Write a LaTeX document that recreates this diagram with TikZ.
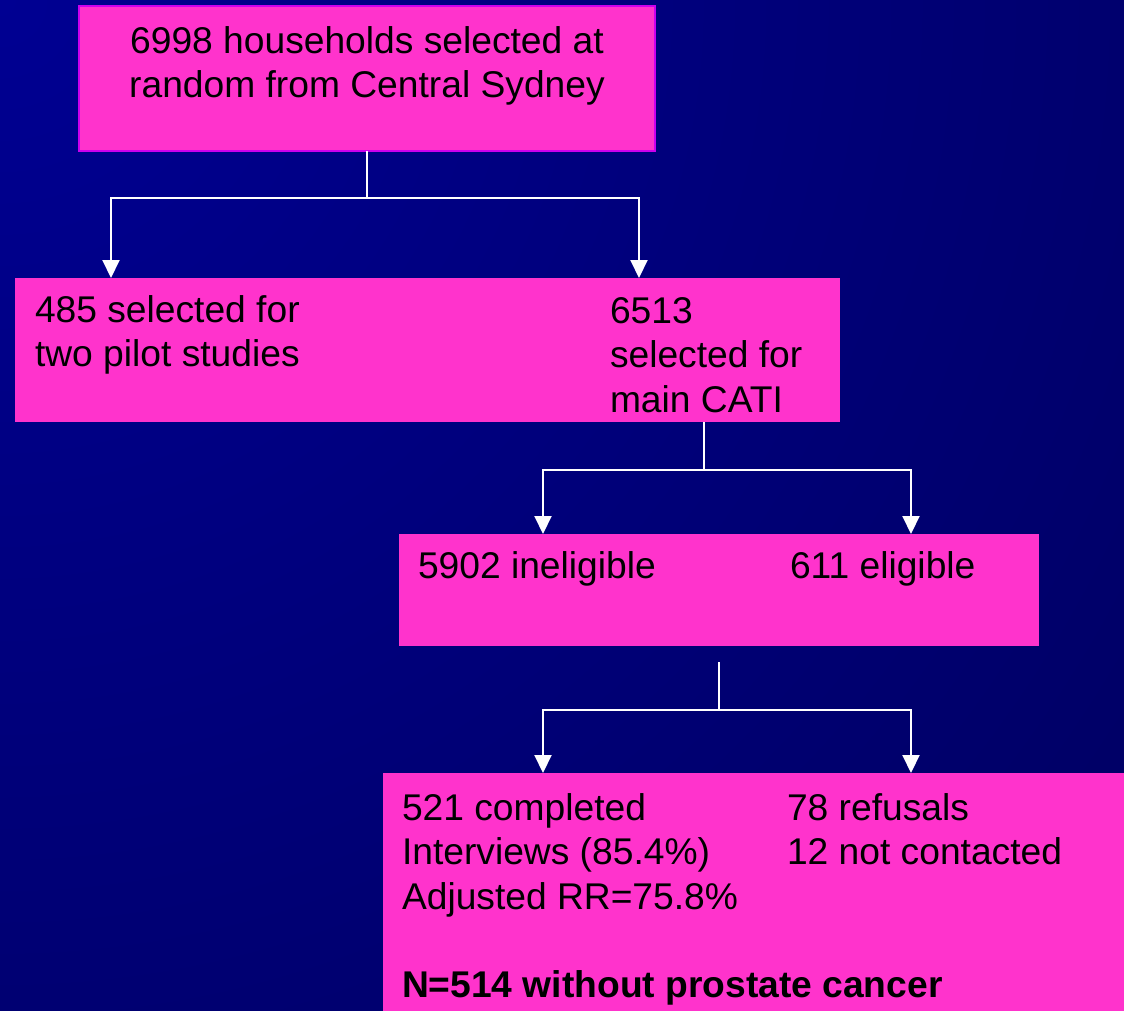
\documentclass[tikz,border=0pt]{standalone}
\usepackage{fontspec}
\setmainfont{Liberation Sans}
\usetikzlibrary{arrows.meta,calc}
\definecolor{pinkbox}{RGB}{255,51,204}
\definecolor{bordv}{RGB}{204,0,238}
\definecolor{bgtop}{RGB}{0,0,146}
\definecolor{bgbot}{RGB}{0,0,82}
\newcommand\bigtxt{\fontsize{37.2}{44.5}\selectfont}
\begin{document}
\begin{tikzpicture}[x=1pt,y=-1pt,
  box/.style={draw=none, fill=pinkbox, anchor=north west, inner sep=0, outer sep=0},
  txt/.style={anchor=base west, inner sep=0, outer sep=0, font=\bigtxt, text=black},
  conn/.style={draw=white, line width=2pt},
  arr/.style={conn, -{Triangle[width=17pt,length=18pt]}}]
\useasboundingbox (0,0) rectangle (1124,1010);
\begin{scope}
  \clip (0,0) rectangle (1124,1010);
  \fill[bgbot] (0,0) rectangle (1124,1010);
  \shade[inner color=bgtop, outer color=bgbot] (0,0) circle (2000pt);
\end{scope}
% boxes
\node[box, draw=bordv, line width=1.5pt, minimum width=576pt, minimum height=145pt] (top) at (79,6) {};
\node[box, minimum width=825pt, minimum height=144pt] (box2) at (15,278) {};
\node[box, minimum width=640pt, minimum height=112pt] (box3) at (399,534) {};
\node[box, minimum width=760pt, minimum height=260pt] (box4) at (383,773) {};
% connectors
\draw[conn] (top.south) -- ++(0,47) coordinate (j1);
\draw[arr] (j1) -| ([xshift=96pt]box2.north west);
\draw[arr] (j1) -| ([xshift=624pt]box2.north west);
\draw[conn] ([xshift=689pt]box2.south west) -- ++(0,48) coordinate (j2);
\draw[arr] (j2) -| ([xshift=144pt]box3.north west);
\draw[arr] (j2) -| ([xshift=512pt]box3.north west);
\draw[conn] ([yshift=-16pt]box3.south) -- ++(0,48) coordinate (j3);
\draw[arr] (j3) -| ([xshift=160pt]box4.north west);
\draw[arr] (j3) -| ([xshift=528pt]box4.north west);
% texts
\node[txt, anchor=base] (t1) at (367,53) {\vtop{\halign{\hfil#\hfil\cr 6998 households selected at\cr random from Central Sydney\cr}}};
\node[txt] (t2a) at (35,322) {\vtop{\hbox{485 selected for}\hbox{two pilot studies}}};
\node[txt] (t2b) at (610,323) {\vtop{\hbox{6513}\hbox{selected for}\hbox{main CATI}}};
\node[txt] (t3a) at (418,578) {5902 ineligible};
\node[txt] (t3b) at (790,578) {611 eligible};
\node[txt] (t4a) at (402,820) {\vtop{\hbox{521 completed}\hbox{Interviews (85.4\%)}\hbox{Adjusted RR=75.8\%}}};
\node[txt] (t4b) at (787,820) {\vtop{\hbox{78 refusals}\hbox{12 not contacted}}};
\node[txt, font=\bigtxt\bfseries] (t4c) at (402,997) {N=514 without prostate cancer};
\end{tikzpicture}
\end{document}
